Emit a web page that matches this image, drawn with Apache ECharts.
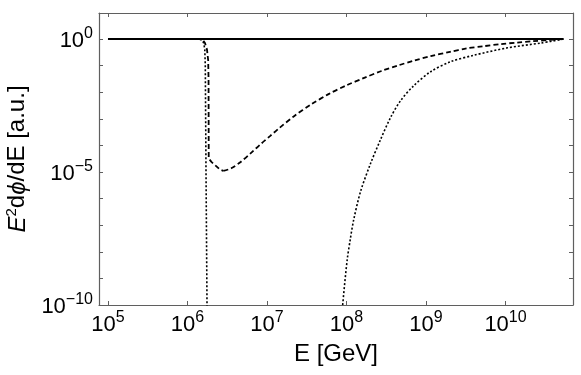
<!DOCTYPE html>
<html>
<head>
<meta charset="utf-8">
<script src="https://cdn.jsdelivr.net/npm/echarts@6/dist/echarts.min.js"></script>
<style>
html,body{margin:0;padding:0;background:#fff;}
#chart{width:581px;height:375px;}
</style>
</head>
<body>
<div id="chart"></div>
<script>
// Energy [GeV] and E^2 dPhi/dE [a.u.]
const solidE = [1e5, 5.37e10];
const solidY = [1, 1];

const dashedDropE = [1e5, 1.41e6, 1.55e6, 1.66e6, 1.76e6, 1.82e6, 1.84e6, 1.85e6, 2.0e6, 2.24e6, 2.57e6, 2.82e6];
const dashedDropY = [1, 1, 0.93, 0.71, 0.4, 0.16, 0.032, 3.2e-5, 2.4e-5, 1.78e-5, 1.23e-5, 1.1e-5];

const dashedRiseE = [2.82e6, 3.55e6, 4.57e6, 6.31e6, 8.32e6, 1.10e7, 1.41e7, 2.19e7, 3.63e7, 6.03e7, 1.0e8, 1.70e8, 2.75e8, 4.47e8, 7.08e8, 1.15e9, 2.0e9, 3.24e9, 5.25e9, 8.7e9, 1.41e10, 2.24e10, 3.55e10, 5.37e10];
const dashedRiseY = [1.1e-5, 1.38e-5, 2.29e-5, 5.25e-5, 1.12e-4, 2.29e-4, 4.37e-4, 1.26e-3, 3.55e-3, 8.71e-3, 1.82e-2, 3.55e-2, 6.31e-2, 0.102, 0.155, 0.229, 0.331, 0.447, 0.537, 0.646, 0.741, 0.832, 0.933, 1];

const dottedLowE = [1e5, 1.41e6, 1.51e6, 1.60e6, 1.65e6, 1.675e6, 1.71e6, 1.76e6, 1.78e6];
const dottedLowY = [1, 1, 0.93, 0.71, 0.4, 0.1, 1e-5, 1e-10, 1e-12];

const dottedHighE = [8.3e7, 8.95e7, 1.02e8, 1.12e8, 1.23e8, 1.50e8, 2.0e8, 2.67e8, 3.57e8, 4.78e8, 6.97e8, 1.14e9, 2.04e9, 3.97e9, 1.06e10, 2.77e10, 5.37e10];
const dottedHighY = [6.3e-12, 1e-10, 5.0e-9, 3.16e-8, 1.58e-7, 1.82e-6, 2.04e-5, 1.62e-4, 1.10e-3, 4.79e-3, 1.74e-2, 5.89e-2, 0.141, 0.245, 0.468, 0.708, 1];

const xTickExponents = [5, 6, 7, 8, 9, 10];
const yLabelExponents = [0, -5, -10];

function pairs(xs, ys) { return xs.map((x, i) => [x, ys[i]]); }

const FONT = 'Liberation Sans';
const frame = '#5f5f5f';

function expLabel(v, allowed) {
  const e = Math.log10(v);
  const r = Math.round(e);
  if (Math.abs(e - r) > 0.01 || allowed.indexOf(r) < 0) return '';
  const s = r < 0 ? '\u2212' + (-r) : '' + r;
  return '{b|10}{s|' + s + '}';
}
const rich = {
  b: { fontSize: 22, fontFamily: FONT, color: '#000', verticalAlign: 'bottom' },
  s: { fontSize: 16, fontFamily: FONT, color: '#000', verticalAlign: 'bottom', padding: [0, 0, 10, 0] }
};

const xMin = 77090, xMax = 7.06e10, yMin = 1e-10, yMax = 9.55;

const baseX = {
  type: 'log', min: xMin, max: xMax, splitNumber: 6,
  axisLine: { show: true, lineStyle: { color: frame, width: 1.2 } },
  axisTick: { show: true, inside: true, length: 4, lineStyle: { color: frame } },
  splitLine: { show: false }, minorTick: { show: false }
};
const baseY = {
  type: 'log', min: yMin, max: yMax, interval: 1,
  axisLine: { show: true, lineStyle: { color: frame, width: 1.2 } },
  axisTick: { show: true, inside: true, length: 4, lineStyle: { color: frame } },
  splitLine: { show: false }, minorTick: { show: false }
};

const chart = echarts.init(document.getElementById('chart'), null, { renderer: 'canvas' });
chart.setOption({
  animation: false,
  backgroundColor: '#fff',
  grid: { left: 99, right: 8, top: 13, bottom: 70, containLabel: false, outerBoundsMode: 'none' },
  xAxis: [
    Object.assign({}, baseX, {
      position: 'bottom',
      name: 'E [GeV]', nameLocation: 'middle', nameGap: 37,
      nameTextStyle: { fontFamily: FONT, fontSize: 24, color: '#000' },
      axisLabel: { show: true, margin: 5, showMinLabel: false, showMaxLabel: false,
        formatter: v => expLabel(v, xTickExponents), rich: rich }
    }),
    Object.assign({}, baseX, { position: 'top', axisLabel: { show: false } })
  ],
  yAxis: [
    Object.assign({}, baseY, {
      position: 'left',
      name: '{i|E}{sup|2}d{i|\u03D5}/dE [a.u.]', nameLocation: 'middle', nameGap: 68,
      nameTextStyle: { fontFamily: FONT, fontSize: 24, color: '#000',
        rich: {
          i: { fontFamily: FONT, fontSize: 24, fontStyle: 'italic', color: '#000', verticalAlign: 'bottom' },
          sup: { fontFamily: FONT, fontSize: 15, color: '#000', verticalAlign: 'bottom', padding: [0, 0, 11, 0] }
        } },
      axisLabel: { show: true, margin: 6, showMaxLabel: false,
        formatter: v => expLabel(v, yLabelExponents), rich: rich }
    }),
    Object.assign({}, baseY, { position: 'right', axisLabel: { show: false } })
  ],
  series: [
    { type: 'line', name: 'solid', data: pairs(solidE, solidY), showSymbol: false, symbol: 'none',
      lineStyle: { color: '#000', width: 2 }, clip: true, z: 3 },
    { type: 'line', name: 'dashedDrop', data: pairs(dashedDropE, dashedDropY), showSymbol: false, symbol: 'none',
      lineStyle: { color: '#000', width: 1.8, type: [5, 3] }, clip: true },
    { type: 'line', name: 'dashedRise', data: pairs(dashedRiseE, dashedRiseY), showSymbol: false, symbol: 'none',
      smooth: 0.3,
      lineStyle: { color: '#000', width: 1.8, type: [5, 3] }, clip: true },
    { type: 'line', name: 'dottedLow', data: pairs(dottedLowE, dottedLowY), showSymbol: false, symbol: 'none',
      lineStyle: { color: '#000', width: 1.6, type: [2, 2] }, clip: true },
    { type: 'line', name: 'dottedHigh', data: pairs(dottedHighE, dottedHighY), showSymbol: false, symbol: 'none',
      smooth: 0.3,
      lineStyle: { color: '#000', width: 1.6, type: [2, 2] }, clip: true }
  ]
});
</script>
</body>
</html>
